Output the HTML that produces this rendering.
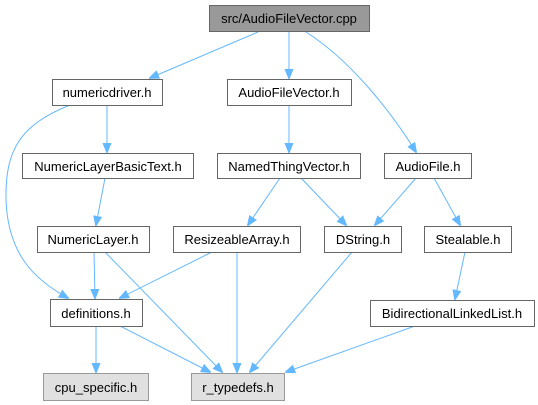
<!DOCTYPE html>
<html><head><meta charset="utf-8"><style>
html,body{margin:0;padding:0;background:#fff;}
svg{display:block;font-family:"Liberation Sans",Arial,sans-serif;}
text{font-size:13px;fill:#000;text-anchor:middle;}
.n{fill:#fff;stroke:#666;stroke-width:1;}
.g{fill:#e0e0e0;stroke:#999;stroke-width:1;}
.r{fill:#999;stroke:#666;stroke-width:1;}
.e{fill:none;stroke:#63b8ff;stroke-width:1;}
</style></head><body>
<svg width="538" height="405" viewBox="0 0 538 405" xmlns="http://www.w3.org/2000/svg">
<defs><marker id="a" markerWidth="10" markerHeight="10" refX="9" refY="5" orient="auto" markerUnits="userSpaceOnUse"><path d="M0,1 L10,5 L0,9 Z" fill="#63b8ff" stroke="#63b8ff"/></marker></defs>
<g marker-end="url(#a)">
<path class="e" d="M258,32 L150,78"/>
<path class="e" d="M289,32 L289,78"/>
<path class="e" d="M306,32 C350,60 390,110 416,152"/>
<path class="e" d="M107,105 L107,152"/>
<path class="e" d="M70,105 C20,125 5,150 6,200 C8,255 35,280 68,298"/>
<path class="e" d="M289,105 L289,152"/>
<path class="e" d="M105,178 L96,225"/>
<path class="e" d="M280,178 L248,225"/>
<path class="e" d="M301,178 L346,225"/>
<path class="e" d="M416,178 L375,225"/>
<path class="e" d="M434,178 L460,225"/>
<path class="e" d="M94,252 L95,298"/>
<path class="e" d="M105,252 L222,372"/>
<path class="e" d="M212,252 L120,298"/>
<path class="e" d="M237,252 L237,372"/>
<path class="e" d="M352,252 L250,372"/>
<path class="e" d="M465,252 L455,299"/>
<path class="e" d="M96,326 L96,372"/>
<path class="e" d="M120,326 L210,372"/>
<path class="e" d="M415,326 L286,372"/>
</g>
<rect class="r" x="209.5" y="5.5" width="160" height="26"/><text x="289" y="23">src/AudioFileVector.cpp</text>
<rect class="n" x="52.5" y="79.5" width="110" height="26"/><text x="107" y="97">numericdriver.h</text>
<rect class="n" x="227.5" y="79.5" width="124" height="26"/><text x="289" y="97">AudioFileVector.h</text>
<rect class="n" x="22.5" y="153.5" width="171" height="25"/><text x="108" y="171">NumericLayerBasicText.h</text>
<rect class="n" x="217.5" y="153.5" width="143" height="25"/><text x="289" y="171">NamedThingVector.h</text>
<rect class="n" x="384.5" y="153.5" width="87" height="25"/><text x="428" y="171">AudioFile.h</text>
<rect class="n" x="37.5" y="226.5" width="112" height="26"/><text x="93" y="244">NumericLayer.h</text>
<rect class="n" x="173.5" y="226.5" width="127" height="26"/><text x="237" y="244">ResizeableArray.h</text>
<rect class="n" x="324.5" y="226.5" width="77" height="26"/><text x="363" y="244">DString.h</text>
<rect class="n" x="424.5" y="226.5" width="87" height="26"/><text x="468" y="244">Stealable.h</text>
<rect class="n" x="50.5" y="299.5" width="92" height="27"/><text x="96" y="318">definitions.h</text>
<rect class="n" x="370.5" y="300.5" width="164" height="26"/><text x="452" y="318">BidirectionalLinkedList.h</text>
<rect class="g" x="43.5" y="373.5" width="105" height="27"/><text x="96" y="392">cpu_specific.h</text>
<rect class="g" x="191.5" y="373.5" width="93" height="27"/><text x="238" y="392">r_typedefs.h</text>
</svg>
</body></html>
